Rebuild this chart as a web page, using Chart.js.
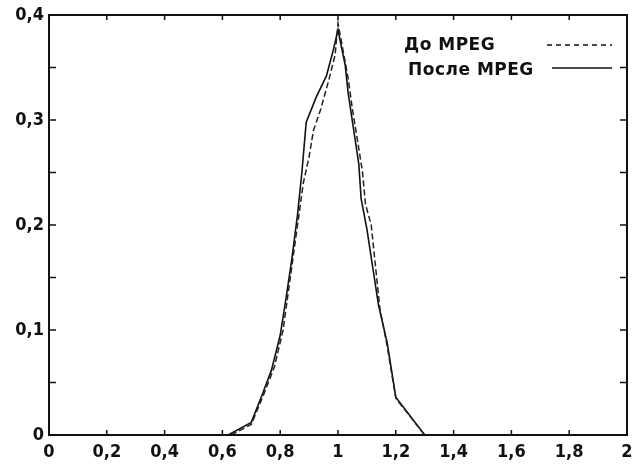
<!DOCTYPE html>
<html>
<head>
<meta charset="utf-8">
<script src="https://cdn.jsdelivr.net/npm/chart.js@4"></script>
<style>
  html, body { margin: 0; padding: 0; background: #fff; }
  #wrap { width: 634px; height: 468px; }
</style>
</head>
<body>
<div id="wrap"><canvas id="mpeg_chart" width="634" height="468"></canvas></div>
<script>
// series: До MPEG (dashed) and После MPEG (solid)
const beforeLabel = 'До MPEG';
const afterLabel = 'После MPEG';

const beforeX = [0.63, 0.70, 0.745, 0.78, 0.81, 0.825, 0.845, 0.86, 0.88, 0.90, 0.915, 0.94, 0.97, 0.99, 1.0, 1.015, 1.035, 1.05, 1.065, 1.085, 1.095, 1.115, 1.13, 1.145, 1.17, 1.2, 1.3];
const beforeY = [0, 0.010, 0.040, 0.065, 0.100, 0.130, 0.170, 0.200, 0.240, 0.265, 0.290, 0.310, 0.340, 0.362, 0.392, 0.370, 0.340, 0.310, 0.285, 0.250, 0.220, 0.200, 0.160, 0.120, 0.085, 0.035, 0];

const afterX = [0.62, 0.70, 0.74, 0.77, 0.80, 0.82, 0.84, 0.86, 0.875, 0.89, 0.925, 0.96, 0.985, 1.0, 1.01, 1.025, 1.035, 1.048, 1.06, 1.072, 1.08, 1.10, 1.12, 1.14, 1.17, 1.2, 1.3];
const afterY = [0, 0.012, 0.040, 0.062, 0.095, 0.130, 0.167, 0.210, 0.250, 0.298, 0.322, 0.342, 0.368, 0.386, 0.372, 0.352, 0.326, 0.302, 0.280, 0.258, 0.225, 0.196, 0.160, 0.124, 0.088, 0.036, 0];

const xTickValues = [0, 0.2, 0.4, 0.6, 0.8, 1, 1.2, 1.4, 1.6, 1.8, 2];
const xTickLabels = ['0', '0,2', '0,4', '0,6', '0,8', '1', '1,2', '1,4', '1,6', '1,8', '2'];
const yTickValues = [0, 0.1, 0.2, 0.3, 0.4];
const yTickLabels = ['0', '0,1', '0,2', '0,3', '0,4'];
const yMinorValues = [0.05, 0.15, 0.25, 0.35];

const FONT = "'DejaVu Sans Condensed', 'DejaVu Sans', sans-serif";

function toPoints(xs, ys) {
  return xs.map((x, i) => ({ x: x, y: ys[i] }));
}

// frame, inward ticks and the gnuplot-like key
const framePlugin = {
  id: 'frame',
  afterDatasetsDraw(chart) {
    const ctx = chart.ctx;
    const a = chart.chartArea;
    const xs = chart.scales.x;
    const ys = chart.scales.y;
    ctx.save();
    ctx.strokeStyle = '#111';
    ctx.lineWidth = 2;
    ctx.strokeRect(a.left, a.top, a.right - a.left, a.bottom - a.top);

    ctx.lineWidth = 1.5;
    ctx.beginPath();
    xTickValues.forEach(v => {
      const px = xs.getPixelForValue(v);
      ctx.moveTo(px, a.bottom); ctx.lineTo(px, a.bottom - 5);
      ctx.moveTo(px, a.top); ctx.lineTo(px, a.top + 5);
    });
    yTickValues.concat(yMinorValues).forEach(v => {
      const py = ys.getPixelForValue(v);
      ctx.moveTo(a.left, py); ctx.lineTo(a.left + 7, py);
      ctx.moveTo(a.right, py); ctx.lineTo(a.right - 7, py);
    });
    ctx.stroke();

    // key
    ctx.font = "bold 17px 'DejaVu Sans', sans-serif";
    ctx.fillStyle = '#111';
    ctx.textBaseline = 'middle';
    ctx.letterSpacing = '0.5px';
    ctx.fillText(beforeLabel, a.right - 223, a.top + 31);
    ctx.fillText(afterLabel, a.right - 219, a.top + 56);

    ctx.lineWidth = 1.5;
    ctx.setLineDash([5, 4]);
    ctx.beginPath();
    ctx.moveTo(a.right - 80, a.top + 30); ctx.lineTo(a.right - 15, a.top + 30);
    ctx.stroke();
    ctx.setLineDash([]);
    ctx.beginPath();
    ctx.moveTo(a.right - 75, a.top + 53); ctx.lineTo(a.right - 15, a.top + 53);
    ctx.stroke();
    ctx.restore();
  }
};

const ctx = document.getElementById('mpeg_chart').getContext('2d');
const chart = new Chart(ctx, {
  type: 'line',
  data: {
    datasets: [{
      label: beforeLabel,
      data: toPoints(beforeX, beforeY),
      borderColor: '#222',
      borderWidth: 1.5,
      borderDash: [6, 3],
      pointRadius: 0,
      tension: 0
    }, {
      label: afterLabel,
      data: toPoints(afterX, afterY),
      borderColor: '#111',
      borderWidth: 1.6,
      pointRadius: 0,
      tension: 0
    }]
  },
  options: {
    responsive: false,
    animation: false,
    layout: { padding: { top: 15, right: 7, left: 0, bottom: 0 } },
    plugins: {
      legend: { display: false },
      tooltip: { enabled: false }
    },
    scales: {
      x: {
        type: 'linear',
        min: 0,
        max: 2,
        grid: { display: false, drawTicks: false },
        border: { display: false },
        afterBuildTicks: scale => { scale.ticks = xTickValues.map(v => ({ value: v })); },
        afterFit: scale => {
          scale.height = 33;
          scale.paddingLeft = 0;
          scale.paddingRight = 0;
        },
        ticks: {
          autoSkip: false,
          maxRotation: 0,
          padding: 7,
          color: '#111',
          font: { family: FONT, size: 18, weight: 'bold' },
          callback: (value, index) => xTickLabels[index]
        }
      },
      y: {
        min: 0,
        max: 0.4,
        grid: { display: false, drawTicks: false },
        border: { display: false },
        afterBuildTicks: scale => { scale.ticks = yTickValues.map(v => ({ value: v })); },
        afterFit: scale => {
          scale.width = 49;
          scale.paddingTop = 0;
          scale.paddingBottom = 0;
        },
        ticks: {
          autoSkip: false,
          padding: 5,
          color: '#111',
          font: { family: FONT, size: 18, weight: 'bold' },
          callback: (value, index) => yTickLabels[index]
        }
      }
    }
  },
  plugins: [framePlugin]
});
</script>
</body>
</html>
